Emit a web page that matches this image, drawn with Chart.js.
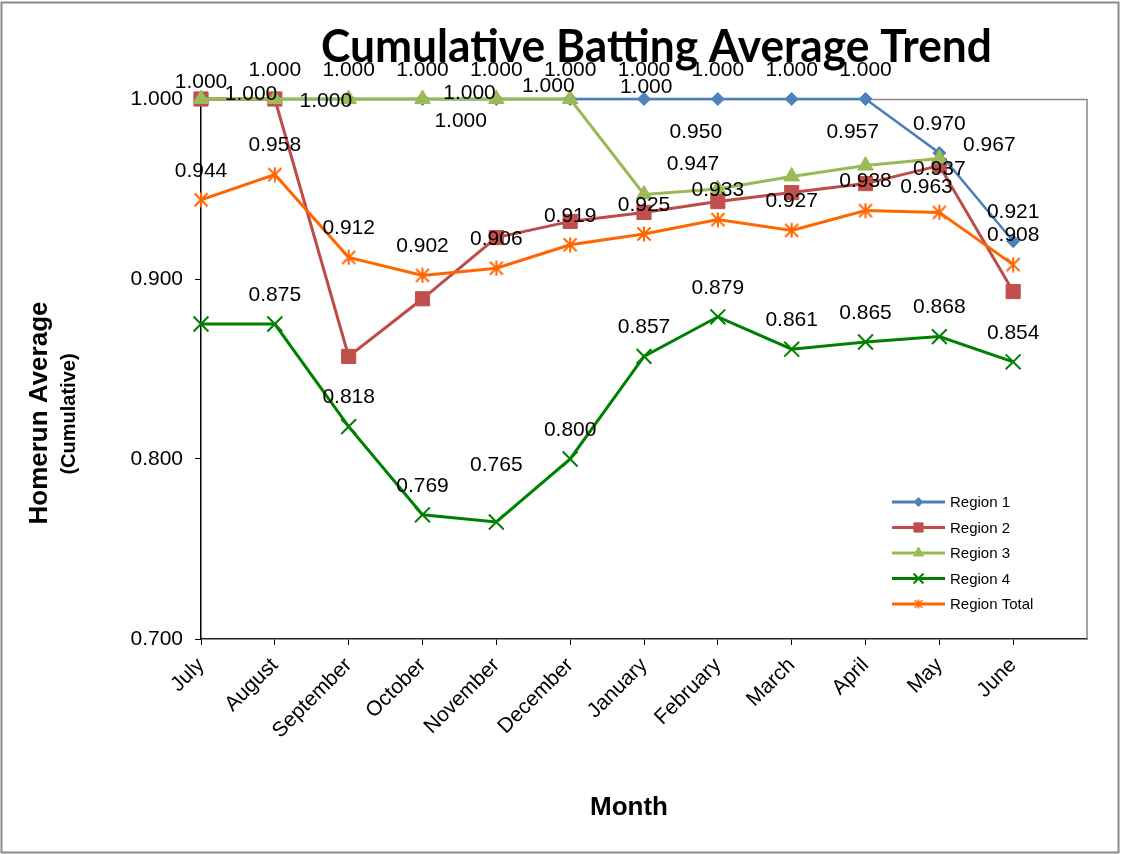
<!DOCTYPE html>
<html><head><meta charset="utf-8">
<script src="https://cdn.jsdelivr.net/npm/chart.js@4.4.1/dist/chart.umd.min.js"></script>
<style>html,body{margin:0;padding:0;background:#fff;}canvas{display:block;}</style>
</head><body>
<canvas id="c" width="1121" height="854"></canvas>
<script>
// ---------- data ----------
const months = ['July','August','September','October','November','December','January','February','March','April','May','June'];
const region1 = [1.000,1.000,1.000,1.000,1.000,1.000,1.000,1.000,1.000,1.000,0.970,0.921];
const region2 = [1.000,1.000,0.857,0.889,0.923,0.932,0.937,0.943,0.948,0.953,0.963,0.893];
const region3 = [1.000,1.000,1.000,1.000,1.000,1.000,0.947,0.950,0.957,0.963,0.967,null];
const region4 = [0.875,0.875,0.818,0.769,0.765,0.800,0.857,0.879,0.861,0.865,0.868,0.854];
const regionTotal = [0.944,0.958,0.912,0.902,0.906,0.919,0.925,0.933,0.927,0.938,0.937,0.908];
const seriesNames = ['Region 1','Region 2','Region 3','Region 4','Region Total'];
const yTickValues = [0.700,0.800,0.900,1.000];
const titleText = 'Cumulative Batting Average Trend';
const yTitle = 'Homerun Average';
const ySubTitle = '(Cumulative)';
const xTitle = 'Month';

// ---------- styling / label placement (not data) ----------
const FONT = '"Liberation Sans", Arial, sans-serif';
function makeStar(color, size, lw){
  const c = document.createElement('canvas'); c.width = c.height = size;
  const g = c.getContext('2d'); g.strokeStyle = color; g.lineWidth = lw; g.lineCap='butt';
  const m = lw/2 + 0.5, s = size;
  g.beginPath();
  g.moveTo(m,m); g.lineTo(s-m,s-m);
  g.moveTo(s-m,m); g.lineTo(m,s-m);
  g.moveTo(s/2,0.5); g.lineTo(s/2,s-0.5);
  g.stroke();
  return c;
}
const starBig = makeStar('#FF6600', 16, 2);
const starSmall = makeStar('#FF6600', 10, 1.6);

const styles = [
  {line:'#4A7EBB', fill:'#4F81BD', ps:'rectRot', r:6.5, lr:4.5, bw:1, lw:2.5},
  {line:'#BE4B48', fill:'#C0504D', ps:'rect', r:10, lr:6.5, bw:1, lw:3},
  {line:'#98B954', fill:'#9BBB59', ps:'triangle', r:9, lr:6, bw:1, lw:3},
  {line:'#008000', fill:'#008000', ps:'crossRot', r:10.5, lr:7, bw:2, lw:3},
  {line:'#FF6600', fill:'#FF6600', ps:starBig, lps:starSmall, r:8, lr:5, bw:2, lw:3}
];
// label offsets relative to the point: def = default, o = per-index override (null hides)
const labelPlacement = [
  {def:[0,-29], o:{0:[0,-17]}},
  {def:null, o:{}},
  {def:[50,-6], o:{0:[50,-5],1:[51,2],2:[112,22],3:[47,-6],4:[52,-13],5:[76,-12],6:[49,-30],7:[-22,-57],8:[61,-44],9:[61,22],10:[50,-13]}},
  {def:[0,-29], o:{0:null,4:[0,-57]}},
  {def:[0,-29], o:{10:[0,-43]}}
];

const seriesData = [region1, region2, region3, region4, regionTotal];
const datasets = seriesData.map((d,i)=>({
  label: seriesNames[i],
  data: d,
  borderColor: styles[i].line,
  backgroundColor: styles[i].fill,
  borderWidth: styles[i].lw,
  pointStyle: styles[i].ps,
  pointRadius: styles[i].r,
  pointHoverRadius: styles[i].r,
  pointBackgroundColor: styles[i].fill,
  pointBorderColor: styles[i].fill,
  pointBorderWidth: styles[i].bw,
  tension: 0,
  clip: false,
  spanGaps: false,
  order: seriesData.length - 1 - i
}));

const framePlugin = {
  id:'frame',
  beforeDraw(chart){
    const ctx = chart.ctx; ctx.save();
    ctx.fillStyle = '#fff'; ctx.fillRect(0,0,chart.width,chart.height);
    ctx.strokeStyle = '#8a8a8a'; ctx.lineWidth = 2;
    ctx.strokeRect(1.5, 2.5, chart.width-4, chart.height-4);
    ctx.restore();
  },
  beforeDatasetsDraw(chart){
    const a = chart.chartArea, ctx = chart.ctx; ctx.save();
    ctx.strokeStyle = '#868686'; ctx.lineWidth = 1.5;
    ctx.beginPath(); ctx.moveTo(a.left, a.top+0.5); ctx.lineTo(a.right, a.top+0.5); ctx.lineTo(a.right, a.bottom); ctx.stroke();
    ctx.restore();
  }
};

const labelPlugin = {
  id:'dlabels',
  afterDatasetsDraw(chart){
    const ctx = chart.ctx; ctx.save();
    ctx.font = '21px ' + FONT; ctx.fillStyle = '#000'; ctx.textAlign = 'center'; ctx.textBaseline = 'middle';
    chart.data.datasets.forEach((ds,i)=>{
      const meta = chart.getDatasetMeta(i); const cfg = labelPlacement[i];
      ds.data.forEach((v,j)=>{
        if (v == null) return;
        const off = (j in cfg.o) ? cfg.o[j] : cfg.def;
        if (!off) return;
        const p = meta.data[j];
        ctx.fillText(v.toFixed(3), p.x + off[0], p.y + off[1]);
      });
    });
    ctx.restore();
  },
  afterDraw(chart){
    const ctx = chart.ctx, a = chart.chartArea; ctx.save();
    // legend
    const lx = a.right - 195, ly = a.bottom - 137;
    ctx.textBaseline = 'middle'; ctx.textAlign = 'left'; ctx.font = '15px ' + FONT;
    seriesNames.forEach((n,i)=>{
      const y = ly + i*25.5, s = styles[i];
      ctx.strokeStyle = s.line; ctx.lineWidth = 3;
      ctx.beginPath(); ctx.moveTo(lx, y); ctx.lineTo(lx+53, y); ctx.stroke();
      ctx.fillStyle = s.fill; ctx.strokeStyle = s.fill; ctx.lineWidth = s.bw;
      const ps = s.lps || s.ps;
      if (Chart.helpers && Chart.helpers.drawPoint) {
        Chart.helpers.drawPoint(ctx, {pointStyle: ps, radius: s.lr, rotation: 0, borderWidth: s.bw}, lx+26.5, y);
      }
      ctx.fillStyle = '#000';
      ctx.fillText(n, lx+58, y+1);
    });
    // chart title
    ctx.fillStyle = '#000';
    ctx.font = 'bold 46px Lato, "Open Sans", sans-serif';
    ctx.textAlign = 'left'; ctx.textBaseline = 'alphabetic';
    const tw = ctx.measureText(titleText).width;
    const target = 671, sx = target / tw;
    ctx.save(); ctx.translate(321, 62); ctx.scale(sx, 1); ctx.fillText(titleText, 0, 0); ctx.restore();
    // axis titles
    ctx.textAlign = 'center'; ctx.textBaseline = 'middle';
    ctx.save(); ctx.translate(40, 413); ctx.rotate(-Math.PI/2);
    ctx.font = 'bold 26px ' + FONT; ctx.fillText(yTitle, 0, 0); ctx.restore();
    ctx.save(); ctx.translate(69, 414); ctx.rotate(-Math.PI/2);
    ctx.font = 'bold 20px ' + FONT; ctx.fillText(ySubTitle, 0, 0); ctx.restore();
    ctx.font = 'bold 26px ' + FONT; ctx.fillText(xTitle, 629, 808);
    ctx.restore();
  }
};

new Chart(document.getElementById('c'), {
  type: 'line',
  data: { labels: [...months, ''], datasets },
  options: {
    responsive: false, animation: false, devicePixelRatio: 1, events: [],
    layout: { padding: { top: 99, right: 34, left: 0, bottom: 0 } },
    plugins: { legend: {display:false}, title: {display:false}, tooltip: {enabled:false} },
    scales: {
      x: {
        type: 'category', offset: false,
        afterFit(s){ s.height = 215; },
        grid: { display: true, drawOnChartArea: false, drawTicks: true, tickLength: 6,
                color: c => (c.index === months.length ? 'rgba(0,0,0,0)' : '#000') },
        border: { display: true, color: '#222', width: 1.5 },
        ticks: { autoSkip: false, maxRotation: 45, minRotation: 45, color: '#000', padding: 8, font: { size: 21, family: FONT } }
      },
      y: {
        type: 'linear', min: 0.7, max: 1.0,
        afterFit(s){ s.width = 201; },
        afterBuildTicks(s){ s.ticks = yTickValues.map(v => ({value: v})); },
        grid: { display: true, drawOnChartArea: false, drawTicks: true, tickLength: 6, color: '#000' },
        border: { display: true, color: '#000', width: 1.5 },
        ticks: { color: '#000', padding: 12, font: { size: 21, family: FONT }, callback: v => Number(v).toFixed(3) }
      }
    }
  },
  plugins: [framePlugin, labelPlugin]
});
</script>
</body></html>
